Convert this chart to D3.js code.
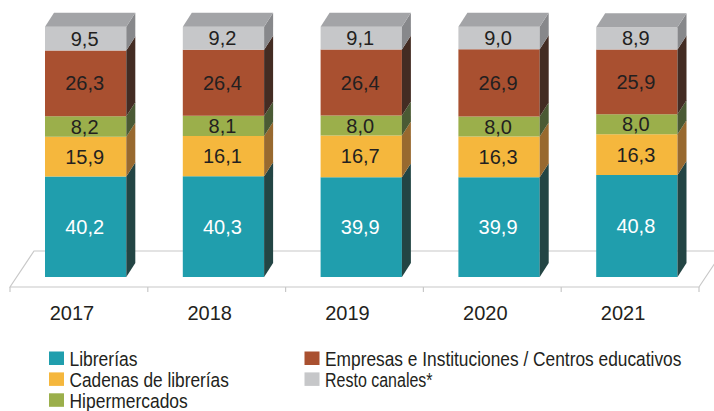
<!DOCTYPE html>
<html>
<head>
<meta charset="utf-8">
<script src="https://cdn.jsdelivr.net/npm/d3@7"></script>
<style>
  html, body { margin: 0; padding: 0; background: #fff; }
  svg { display: block; }
  text { font-family: "Liberation Sans", Arial, Helvetica, sans-serif; }
</style>
</head>
<body>
<svg id="chart" width="714" height="411"></svg>
<script>
// Cuota de ventas por canal de comercialización (%)
const years = ["2017", "2018", "2019", "2020", "2021"];
const librerias = [40.2, 40.3, 39.9, 39.9, 40.8];
const cadenas = [15.9, 16.1, 16.7, 16.3, 16.3];
const hipermercados = [8.2, 8.1, 8.0, 8.0, 8.0];
const empresas = [26.3, 26.4, 26.4, 26.9, 25.9];
const resto = [9.5, 9.2, 9.1, 9.0, 8.9];

const seriesNames = ["Librerías", "Cadenas de librerías", "Hipermercados",
  "Empresas e Instituciones / Centros educativos", "Resto canales*"];
const seriesKeys = ["librerias", "cadenas", "hipermercados", "empresas", "resto"];
const frontColors = ["#209EAD", "#F5B73D", "#9BAF4B", "#A95030", "#C6C7C9"];
const sideColors = ["#234544", "#98692F", "#4A5A34", "#432C23", "#87888B"];
const topColor = "#A3A4A7";
const labelColors = ["#FFFFFF", "#231F20", "#231F20", "#231F20", "#231F20"];

const rows = years.map((y, i) => ({
  year: y,
  librerias: librerias[i],
  cadenas: cadenas[i],
  hipermercados: hipermercados[i],
  empresas: empresas[i],
  resto: resto[i]
}));

const svg = d3.select("#chart");
const comma = d3.formatLocale({ decimal: ",", thousands: ".", grouping: [3], currency: ["", "€"] }).format(".1f");

// Scales: band scale spans the front edge of the floor
const x = d3.scaleBand().domain(years).range([10, 699]).paddingInner(0).paddingOuter(0);
const y = d3.scaleLinear().domain([0, 100]).range([277, 27]);

const depthX = 9, depthY = -14;           // bar depth offset
const floorDX = 24, floorDY = -36;        // floor depth offset
const floorY = 287;
const barOffset = x.bandwidth() * 0.254;
const barW = x.bandwidth() * 0.59;

// Floor
const floor = svg.append("g").attr("stroke", "#C8C8C8").attr("stroke-width", 1.2).attr("fill", "none");
const [fx0, fx1] = x.range();
floor.append("path").attr("d",
  `M${fx0},${floorY} L${fx0 + floorDX},${floorY + floorDY} L${fx1 + floorDX},${floorY + floorDY} L${fx1},${floorY} Z`);
floor.selectAll("line.tick")
  .data(years.concat(["end"]))
  .join("line")
  .attr("class", "tick")
  .attr("x1", d => d === "end" ? fx1 : x(d))
  .attr("x2", d => d === "end" ? fx1 : x(d))
  .attr("y1", floorY)
  .attr("y2", floorY + 5);

// Stacked bars
const stack = d3.stack().keys(seriesKeys);
const stacked = stack(rows);

const bars = svg.append("g");
years.forEach((yr, i) => {
  const g = bars.append("g");
  const x0 = x(yr) + barOffset;
  const x1 = x0 + barW;
  stacked.forEach((layer, k) => {
    const [v0, v1] = layer[i];
    const yTop = y(v1), yBot = y(v0);
    g.append("rect")
      .attr("x", x0).attr("y", yTop)
      .attr("width", barW).attr("height", yBot - yTop)
      .attr("fill", frontColors[k]);
    g.append("path")
      .attr("d", `M${x1},${yTop} L${x1 + depthX},${yTop + depthY} L${x1 + depthX},${yBot + depthY} L${x1},${yBot} Z`)
      .attr("fill", sideColors[k]);
    if (k === stacked.length - 1) {
      g.append("path")
        .attr("d", `M${x0},${yTop} L${x0 + depthX},${yTop + depthY} L${x1 + depthX},${yTop + depthY} L${x1},${yTop} Z`)
        .attr("fill", topColor);
    }
    g.append("text")
      .attr("x", (x0 + x1) / 2 - 1)
      .attr("y", (yTop + yBot) / 2 + 7)
      .attr("text-anchor", "middle")
      .attr("font-size", 20)
      .attr("fill", labelColors[k])
      .text(comma(layer[i].data[seriesKeys[k]]));
  });
});

// Category labels
svg.append("g").selectAll("text")
  .data(years)
  .join("text")
  .attr("x", d => x(d) + x.bandwidth() / 2 - 7)
  .attr("y", 320)
  .attr("text-anchor", "middle")
  .attr("font-size", 20)
  .attr("fill", "#231F20")
  .text(d => d);

// Legend (condensed lettering: each label is squeezed horizontally to its width)
const legendCols = [49, 304.5];
const legendRows = [351.5, 372.4, 393.3];
const legendPos = [[0, 0], [0, 1], [0, 2], [1, 0], [1, 1]];
const legendWidths = [68, 159.5, 118.3, 356.7, 107.6];
const legend = svg.append("g").selectAll("g")
  .data(seriesNames)
  .join("g")
  .attr("transform", (d, i) => `translate(${legendCols[legendPos[i][0]]},${legendRows[legendPos[i][1]]})`);
legend.append("rect")
  .attr("width", 15).attr("height", 13.5)
  .attr("fill", (d, i) => frontColors[i]);
legend.append("text")
  .attr("font-size", 19.5)
  .attr("fill", "#231F20")
  .text(d => d)
  .each(function (d, i) {
    const natural = this.getComputedTextLength();
    const sx = legendWidths[i] / natural;
    d3.select(this).attr("transform", `translate(20.5,14.3) scale(${sx},1)`);
  });
</script>
</body>
</html>
